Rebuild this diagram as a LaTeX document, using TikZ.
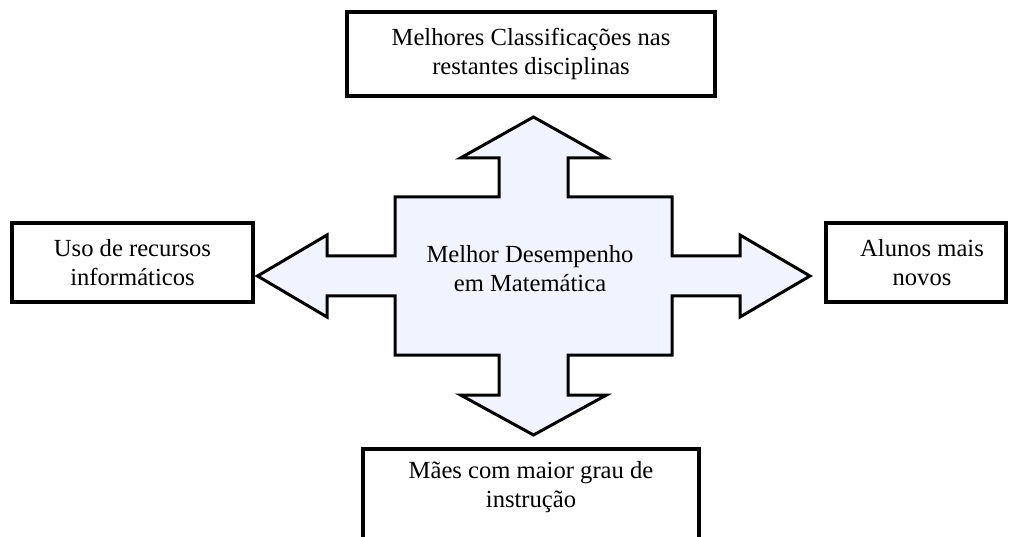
\documentclass[tikz,border=0pt]{standalone}
\usepackage{fontspec}
\setmainfont{Liberation Serif}
\usepackage{xcolor}
\usepackage{tikz}
\usetikzlibrary{positioning}

\definecolor{arrowfill}{RGB}{241,244,255}

\begin{document}
\begin{tikzpicture}[
  x=1pt, y=-1pt,
  every node/.style={font=\fontsize{24.6}{29}\selectfont},
  box/.style={draw=black, line width=3.5pt, align=center, inner sep=0pt},
  boxline/.style={draw=black, line width=3.5pt},
  crossarrow/.style={draw=black, line width=3pt, fill=arrowfill, line join=miter}
]
\useasboundingbox (0,0) rectangle (1009,537);
\clip (0,0) rectangle (1009,537);

% --- Four-way arrow (centre) ---
\begin{scope}[shift={(533.5,276)}]
\draw[crossarrow]
  (0,-159) -- (73,-118) -- (34.5,-118) -- (34.5,-79) -- (138.5,-79)
  -- (138.5,-20) -- (206.5,-20) -- (206.5,-41) -- (276.5,0)
  -- (206.5,41) -- (206.5,20) -- (138.5,20) -- (138.5,79)
  -- (34.5,79) -- (34.5,119) -- (73,119) -- (0,159)
  -- (-73,119) -- (-34.5,119) -- (-34.5,79) -- (-138.5,79)
  -- (-138.5,20) -- (-206.5,20) -- (-206.5,41) -- (-276,0)
  -- (-206.5,-41) -- (-206.5,-20) -- (-138.5,-20) -- (-138.5,-79)
  -- (-34.5,-79) -- (-34.5,-118) -- (-73,-118) -- cycle;
\end{scope}
\node[align=center] (desemp) at (530,269) {Melhor Desempenho\\em Matemática};

% --- Boxes round it ---
\node[box, minimum width=368, minimum height=84] (classif) at (531,54)
  {Melhores Classificações nas\\restantes disciplinas};
\node[box, minimum width=241, minimum height=79] (recursos) at (132.5,262.5)
  {Uso de recursos\\informáticos};
\node[box, minimum width=180, minimum height=79] (alunos) at (916,262.5)
  {\hspace*{12pt}Alunos mais\\\hspace*{12pt}novos};

% --- Bottom box (runs off the page) ---
\node[align=center, minimum width=336, inner xsep=0pt, inner ysep=12pt, anchor=north] (maes) at (531,449)
  {Mães com maior grau de\\instrução};
\draw[boxline] (maes.north west) ++(0,120) -- (maes.north west) -- (maes.north east) -- ++(0,120);

\end{tikzpicture}
\end{document}
